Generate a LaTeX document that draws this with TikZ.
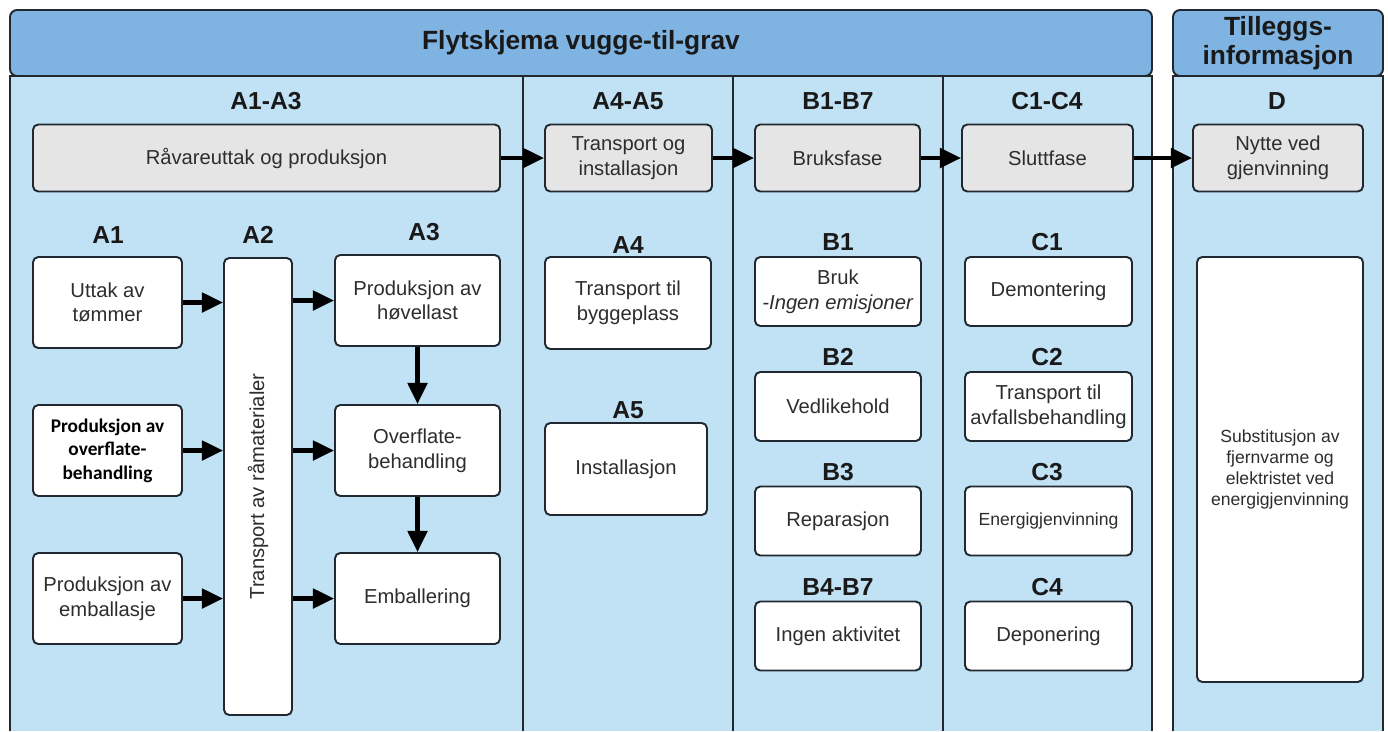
\documentclass[tikz,border=0pt]{standalone}
\usepackage{fontspec}
\setmainfont{Liberation Sans}
\newfontfamily\calibrifont{Carlito}
\usetikzlibrary{arrows.meta}

\definecolor{headblue}{RGB}{126,179,226}
\definecolor{panelblue}{RGB}{193,226,245}
\definecolor{boxgray}{RGB}{229,229,229}
\definecolor{linecol}{RGB}{33,40,48}
\definecolor{txtcol}{RGB}{45,45,45}

\tikzset{
  panelline/.style={draw=linecol, line width=1.1pt},
  headbox/.style 2 args={panelline, fill=headblue, rounded corners=4pt,
    minimum width=#1*0.02cm, minimum height=#2*0.02cm, inner sep=0pt,
    align=center, text=black!90, font=\fontsize{15}{16.5}\selectfont\bfseries},
  phasebox/.style 2 args={panelline, fill=boxgray, rounded corners=3pt,
    minimum width=#1*0.02cm, minimum height=#2*0.02cm, inner sep=1pt,
    align=center, text=txtcol, font=\fontsize{11.5}{14}\selectfont},
  stagebox/.style 2 args={phasebox={#1}{#2}, fill=white},
  modlabel/.style={text=black!90, font=\fontsize{14}{16}\selectfont\bfseries},
  flow/.style={-{Triangle[length=12pt,width=11pt]}, line width=2.3pt, black}
}

\begin{document}
\begin{tikzpicture}[x=0.02cm, y=-0.02cm]
\useasboundingbox (0,0) rectangle (1388,731);

% Panels
\fill[panelblue] (10,76) rectangle (1152,731);
\fill[panelblue] (1173,76) rectangle (1383,731);
\draw[panelline] (10,731) -- (10,76) -- (1152,76) -- (1152,731);
\draw[panelline] (1173,731) -- (1173,76) -- (1383,76) -- (1383,731);
\draw[panelline] (523,76) -- (523,731);
\draw[panelline] (733,76) -- (733,731);
\draw[panelline] (943,76) -- (943,731);

\node[headbox={1142}{66}] (title) at (581,43) {Flytskjema vugge-til-grav};
\node[headbox={210}{66}] (tillegg) at (1278,43) {Tilleggs-\\informasjon};

% Module groups
\node[modlabel] (hA) at (266,101) {A1-A3};
\node[modlabel] (hAA) at (628,101) {A4-A5};
\node[modlabel] (hB) at (838,101) {B1-B7};
\node[modlabel] (hC) at (1047,101) {C1-C4};
\node[modlabel] (hD) at (1277,101) {D};

\node[phasebox={467}{67}] (raa) at (266.5,158) {Råvareuttak og produksjon};
\node[phasebox={167}{67}] (tog) at (628.5,158) {Transport og\\installasjon};
\node[phasebox={165}{67}] (bruks) at (837.5,158) {Bruksfase};
\node[phasebox={171}{67}] (slutt) at (1047.5,158) {Sluttfase};
\node[phasebox={170}{67}] (nytte) at (1278,158) {Nytte ved\\gjenvinning};

\draw[flow] (raa) -- (tog);
\draw[flow] (tog) -- (bruks);
\draw[flow] (bruks) -- (slutt);
\draw[flow] (slutt) -- (nytte);

% A1-A3
\node[modlabel] (lA1) at (108,235) {A1};
\node[modlabel] (lA2) at (258,235) {A2};
\node[modlabel] (lA3) at (424,232) {A3};

\node[stagebox={149}{91}] (uttak) at (107.5,302.5) {Uttak av\\tømmer};
\node[stagebox={149}{91}, text=black, font=\fontsize{11}{13.3}\selectfont\calibrifont\bfseries] (prodover) at (107.5,450.5) {Produksjon av\\overflate-\\behandling};
\node[stagebox={149}{91}] (prodemb) at (107.5,598.5) {Produksjon av\\emballasje};

\node[stagebox={68}{457}] (a2) at (258,486.5) {};
\node[rotate=90, text=txtcol, font=\fontsize{11.5}{14}\selectfont] (a2txt) at (a2) {Transport av råmaterialer};

\node[stagebox={165}{91}] (hovel) at (417.5,300.5) {Produksjon av\\høvellast};
\node[stagebox={165}{91}] (overfl) at (417.5,450.5) {Overflate-\\behandling};
\node[stagebox={165}{91}] (emball) at (417.5,598.5) {Emballering};

\draw[flow] (uttak.east) -- (uttak.east -| a2.west);
\draw[flow] (prodover.east) -- (prodover.east -| a2.west);
\draw[flow] (prodemb.east) -- (prodemb.east -| a2.west);
\draw[flow] (hovel.west -| a2.east) -- (hovel.west);
\draw[flow] (overfl.west -| a2.east) -- (overfl.west);
\draw[flow] (emball.west -| a2.east) -- (emball.west);
\draw[flow] (hovel) -- (overfl);
\draw[flow] (overfl) -- (emball);

% A4-A5
\node[modlabel] (lA4) at (628,245) {A4};
\node[modlabel] (lA5) at (628,410) {A5};
\node[stagebox={166}{92}] (byggeplass) at (628,303) {Transport til\\byggeplass};
\node[stagebox={162}{92}] (install) at (626,469) {Installasjon};

% B1-B7
\node[modlabel] (lB1) at (838,242) {B1};
\node[modlabel] (lB2) at (838,357) {B2};
\node[modlabel] (lB3) at (838,472) {B3};
\node[modlabel] (lB4) at (838,587) {B4-B7};
\node[stagebox={166}{69}] (bruk) at (838,291.5) {Bruk\\\textit{-Ingen emisjoner}};
\node[stagebox={166}{69}] (vedlikehold) at (838,406.5) {Vedlikehold};
\node[stagebox={166}{69}] (reparasjon) at (838,521) {Reparasjon};
\node[stagebox={166}{69}] (ingenakt) at (838,636) {Ingen aktivitet};

% C1-C4
\node[modlabel] (lC1) at (1047,242) {C1};
\node[modlabel] (lC2) at (1047,357) {C2};
\node[modlabel] (lC3) at (1047,472) {C3};
\node[modlabel] (lC4) at (1047,587) {C4};
\node[stagebox={167}{69}] (demont) at (1048.5,291.5) {Demontering};
\node[stagebox={167}{69}] (avfall) at (1048.5,406.5) {Transport til\\avfallsbehandling};
\node[stagebox={167}{69}, font=\fontsize{10}{12}\selectfont] (energi) at (1048.5,521) {Energigjenvinning};
\node[stagebox={167}{69}] (depon) at (1048.5,636) {Deponering};

% D
\node[stagebox={166}{425}, font=\fontsize{10}{12}\selectfont] (subst) at (1280,469.5) {Substitusjon av\\fjernvarme og\\elektristet ved\\energigjenvinning};

\end{tikzpicture}
\end{document}
